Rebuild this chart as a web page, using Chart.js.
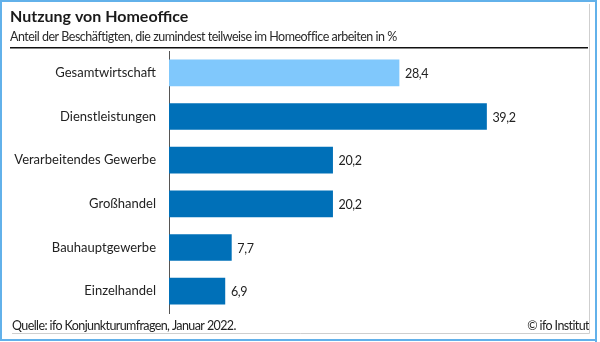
<!DOCTYPE html>
<html>
<head>
<meta charset="utf-8">
<script src="https://cdn.jsdelivr.net/npm/chart.js@4/dist/chart.umd.min.js"></script>
<style>
  html, body { margin: 0; padding: 0; background: #fff; }
  #wrap { position: relative; width: 600px; height: 342px; }
</style>
</head>
<body>
<div id="wrap"><canvas id="c" width="600" height="342"></canvas></div>
<script>
const titleText = "Nutzung von Homeoffice";
const subtitleText = "Anteil der Beschäftigten, die zumindest teilweise im Homeoffice arbeiten in %";
const sourceText = "Quelle: ifo Konjunkturumfragen, Januar 2022.";
const creditText = "© ifo Institut";
const categories = ["Gesamtwirtschaft", "Dienstleistungen", "Verarbeitendes Gewerbe", "Großhandel", "Bauhauptgewerbe", "Einzelhandel"];
const values = [28.4, 39.2, 20.2, 20.2, 7.7, 6.9];
const barColors = ["#80c8fc", "#0070b8", "#0070b8", "#0070b8", "#0070b8", "#0070b8"];

const FONT = "Lato, 'Open Sans', sans-serif";

const decor = {
  id: 'decor',
  beforeDraw(chart) {
    const ctx = chart.ctx;
    ctx.save();
    ctx.fillStyle = '#fff';
    ctx.fillRect(0, 0, 600, 342);
    ctx.restore();
  },
  afterDraw(chart) {
    const ctx = chart.ctx;
    ctx.save();
    // title
    ctx.fillStyle = '#1a1a1a';
    ctx.textBaseline = 'alphabetic';
    ctx.textAlign = 'left';
    ctx.font = "bold 16px " + FONT;
    ctx.letterSpacing = '0px';
    ctx.fillText(titleText, 10, 22);
    ctx.font = "12.5px " + FONT;
    ctx.letterSpacing = '-0.5px';
    ctx.fillStyle = '#2a2a2a';
    ctx.fillText(subtitleText, 10, 41);
    // black rule
    ctx.strokeStyle = '#111';
    ctx.lineWidth = 1.5;
    ctx.beginPath(); ctx.moveTo(10, 47.75); ctx.lineTo(588, 47.75); ctx.stroke();
    // footer
    ctx.font = "12.5px " + FONT;
    ctx.letterSpacing = '-0.6px';
    ctx.fillStyle = '#222';
    ctx.fillText(sourceText, 12, 330);
    ctx.textAlign = 'right';
    ctx.fillText(creditText, 589, 330);
    // grey frame lines
    ctx.strokeStyle = '#cfcfcf';
    ctx.lineWidth = 1;
    ctx.beginPath(); ctx.moveTo(12, 333.5); ctx.lineTo(589.5, 333.5); ctx.lineTo(589.5, 4); ctx.stroke();
    // outer blue border
    ctx.strokeStyle = '#62b1ea';
    ctx.lineWidth = 2;
    ctx.beginPath();
    ctx.moveTo(1, 0); ctx.lineTo(1, 341); ctx.moveTo(0, 1); ctx.lineTo(597, 1);
    ctx.moveTo(596, 0); ctx.lineTo(596, 342); ctx.moveTo(0, 340); ctx.lineTo(597, 340);
    ctx.stroke();
    // value labels
    const meta = chart.getDatasetMeta(0);
    ctx.font = "12.5px " + FONT;
    ctx.letterSpacing = '-0.4px';
    ctx.fillStyle = '#222';
    ctx.textAlign = 'left';
    ctx.textBaseline = 'middle';
    meta.data.forEach((bar, i) => {
      const v = chart.data.datasets[0].data[i];
      ctx.fillText(v.toFixed(1).replace('.', ','), bar.x + 6, bar.y + 1);
    });
    ctx.restore();
  }
};

new Chart(document.getElementById('c'), {
  type: 'bar',
  data: {
    labels: categories,
    datasets: [{
      data: values,
      backgroundColor: barColors,
      borderWidth: 0,
      barThickness: 26
    }]
  },
  options: {
    indexAxis: 'y',
    responsive: false,
    animation: false,
    layout: { padding: { top: 51, bottom: 29, left: 0, right: 26 } },
    plugins: { legend: { display: false }, tooltip: { enabled: false }, title: { display: false } },
    scales: {
      x: {
        display: false,
        min: 0,
        max: 50,
        grid: { display: false }
      },
      y: {
        afterFit(scale) { scale.width = 169; },
        grid: { display: false, drawTicks: false },
        border: { display: true, color: '#555', width: 1 },
        ticks: {
          padding: 13,
          color: '#222',
          font: { family: FONT, size: 13 }
        }
      }
    }
  },
  plugins: [decor]
});
</script>
</body>
</html>
